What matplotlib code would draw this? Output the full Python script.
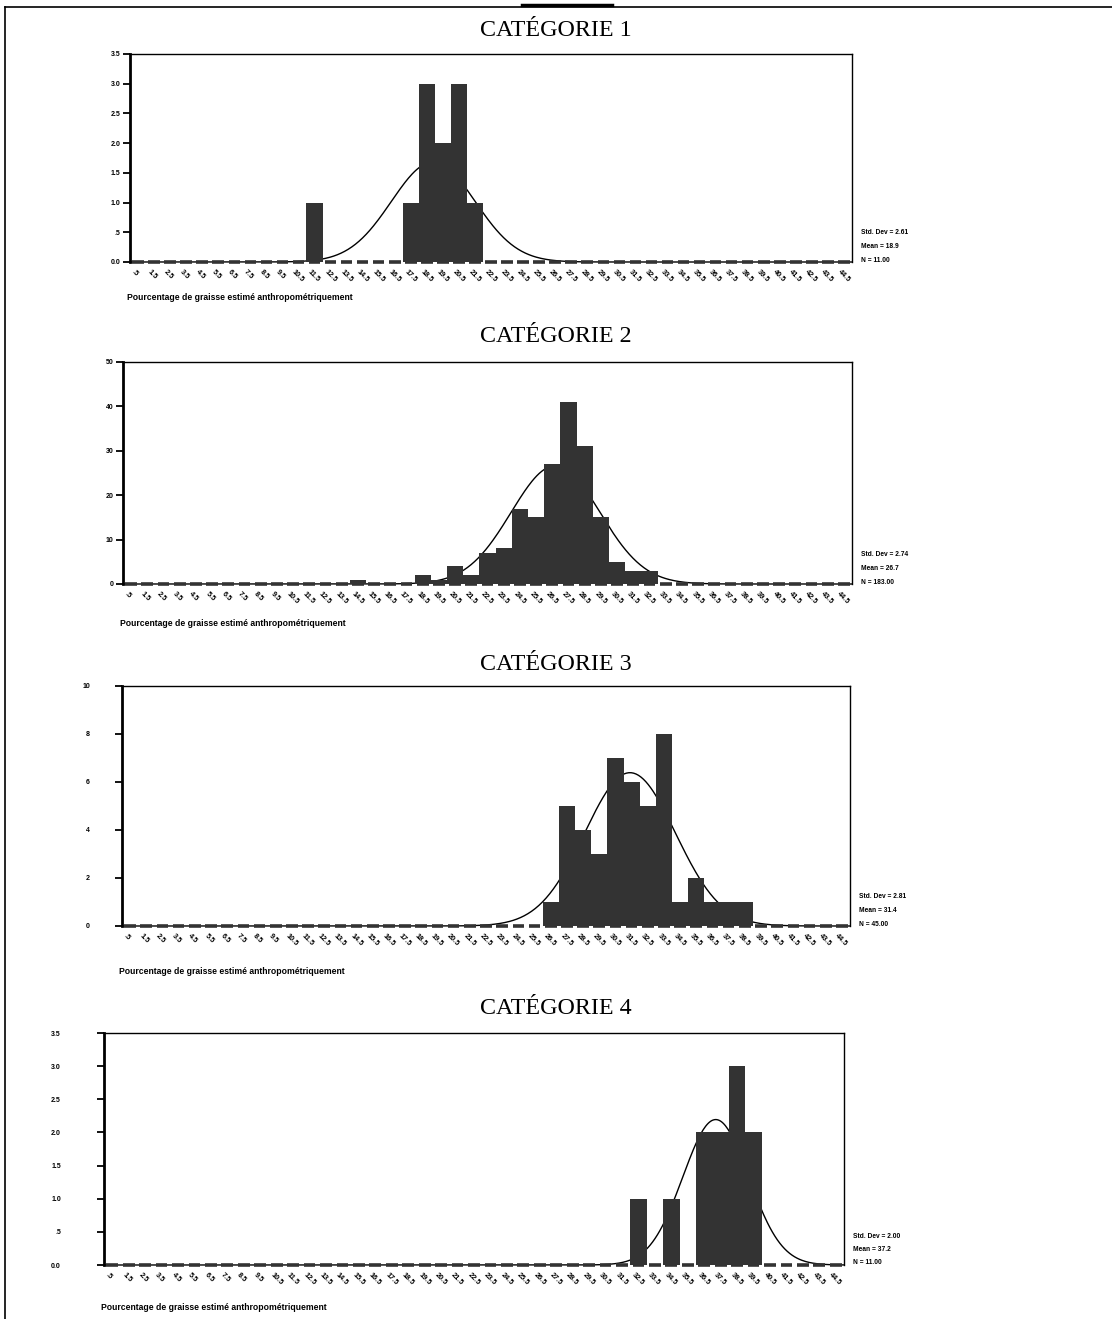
import numpy as np
import matplotlib
matplotlib.use("Agg")
import matplotlib.pyplot as plt
from matplotlib.lines import Line2D
from matplotlib.transforms import ScaledTranslation

W, H = 1112, 1319

# histogram data (bin midpoint -> count)
cat1_bins = [11.5, 17.5, 18.5, 19.5, 20.5, 21.5]
cat1_counts = [1, 1, 3, 2, 3, 1]

cat2_bins = [14.5, 18.5, 19.5, 20.5, 21.5, 22.5, 23.5, 24.5, 25.5, 26.5, 27.5, 28.5, 29.5, 30.5, 31.5, 32.5]
cat2_counts = [1, 2, 1, 4, 2, 7, 8, 17, 15, 27, 41, 31, 15, 5, 3, 3]

cat3_bins = [26.5, 27.5, 28.5, 29.5, 30.5, 31.5, 32.5, 33.5, 34.5, 35.5, 36.5, 37.5, 38.5]
cat3_counts = [1, 5, 4, 3, 7, 6, 5, 8, 1, 2, 1, 1, 1]

cat4_bins = [32.5, 34.5, 36.5, 37.5, 38.5, 39.5]
cat4_counts = [1, 1, 2, 2, 3, 2]

titles = ["CATÉGORIE 1", "CATÉGORIE 2", "CATÉGORIE 3", "CATÉGORIE 4"]
std_devs = [2.61, 2.74, 2.81, 2.00]
means = [18.9, 26.7, 31.4, 37.2]
ns = [11, 183, 45, 11]

y_ticks = [[0, 0.5, 1.0, 1.5, 2.0, 2.5, 3.0, 3.5],
           [0, 10, 20, 30, 40, 50],
           [0, 2, 4, 6, 8, 10],
           [0, 0.5, 1.0, 1.5, 2.0, 2.5, 3.0, 3.5]]
y_labels = [["0.0", ".5", "1.0", "1.5", "2.0", "2.5", "3.0", "3.5"],
            ["0", "10", "20", "30", "40", "50"],
            ["0", "2", "4", "6", "8", "10"],
            ["0.0", ".5", "1.0", "1.5", "2.0", "2.5", "3.0", "3.5"]]

bin_centers = np.arange(0.5, 45, 1.0)
x_labels = [(".5" if v < 1 else f"{v:.1f}") for v in bin_centers]
xlabel = "Pourcentage de graisse estimé anthropométriquement"

all_bins = [cat1_bins, cat2_bins, cat3_bins, cat4_bins]
all_counts = [cat1_counts, cat2_counts, cat3_counts, cat4_counts]

# layout in pixels: (left, top, right, bottom) of each plot box
boxes = [(130, 54, 852, 262), (123, 362, 852, 584), (122, 686, 850, 926), (104, 1033, 844, 1265)]
title_y = [30, 337, 664, 1008]
ylabel_pad = [2, 2, 18, 26]
xlabel_drop = [36, 40, 45, 43]

bar_color = "#333333"
small = dict(family="Liberation Sans", weight="bold")

fig = plt.figure(figsize=(W / 100, H / 100), dpi=100)
fig.patch.set_facecolor("white")

# page frame
fig.add_artist(Line2D([5 / W, 5 / W], [0, 1 - 7 / H], color="black", lw=1.2))
fig.add_artist(Line2D([5 / W, 1], [1 - 7 / H, 1 - 7 / H], color="black", lw=1.2))
# underline of the (cut off) page heading
fig.add_artist(Line2D([522 / W, 612 / W], [1 - 5 / H, 1 - 5 / H], color="black", lw=2.5))

for i in range(4):
    x0, y0, x1, y1 = boxes[i]
    ax = fig.add_axes([x0 / W, 1 - y1 / H, (x1 - x0) / W, (y1 - y0) / H])
    ymax = y_ticks[i][-1]
    ax.set_xlim(0, 45)
    ax.set_ylim(0, ymax)

    # normal curve behind the bars
    xs = np.linspace(0, 45, 600)
    ys = ns[i] * 1.0 / (std_devs[i] * np.sqrt(2 * np.pi)) * np.exp(-0.5 * ((xs - means[i]) / std_devs[i]) ** 2)
    ax.plot(xs, ys, color="black", lw=1.0, zorder=1, clip_on=False)

    ax.bar(all_bins[i], all_counts[i], width=1.0, color=bar_color, edgecolor="none", zorder=2)

    # dashed baseline (one dash per bin)
    ax.hlines(np.zeros_like(bin_centers), bin_centers - 0.36, bin_centers + 0.36,
              color=bar_color, lw=2.6, zorder=3, clip_on=False)

    for s in ["top", "right"]:
        ax.spines[s].set_linewidth(1.0)
    ax.spines["left"].set_linewidth(2.0)
    ax.spines["bottom"].set_visible(False)

    ax.set_yticks(y_ticks[i])
    ax.set_yticklabels(y_labels[i], fontsize=5.0, **small)
    ax.tick_params(axis="y", length=5, width=1.3, pad=ylabel_pad[i])

    ax.set_xticks(bin_centers)
    ax.set_xticklabels(x_labels, fontsize=5.3, rotation=-45, ha="left", va="top",
                       rotation_mode="anchor", **small)
    ax.tick_params(axis="x", length=0, pad=5)
    off = ScaledTranslation(-3 / 100, 0, fig.dpi_scale_trans)
    for lab in ax.get_xticklabels():
        lab.set_transform(lab.get_transform() + off)

    # statistics box at the right
    stats = [f"Std. Dev = {std_devs[i]:.2f}", f"Mean = {means[i]:.1f}", f"N = {ns[i]:.2f}"]
    for k, s in enumerate(stats):
        fig.text((x1 + 9) / W, 1 - (y1 - 2 - (2 - k) * 13.5) / H, s, fontsize=4.8,
                 ha="left", va="center", **small)

    fig.text((x0 - 3) / W, 1 - (y1 + xlabel_drop[i]) / H, xlabel, fontsize=6.2,
             ha="left", va="center", **small)

    fig.text(556 / W, 1 - title_y[i] / H, titles[i], fontsize=17.3,
             family="Liberation Serif", ha="center", va="center")

fig.savefig("out.png", dpi=100)
